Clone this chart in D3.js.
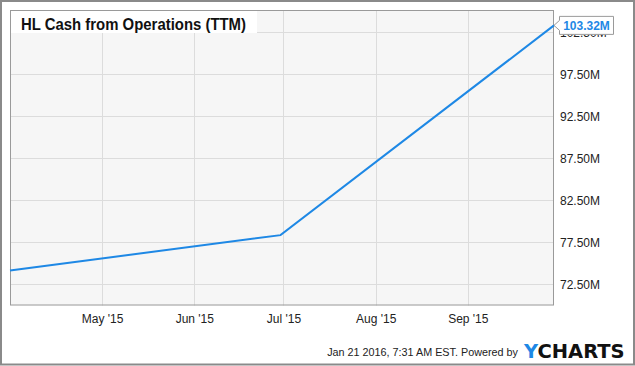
<!DOCTYPE html>
<html>
<head>
<meta charset="utf-8">
<script src="https://cdn.jsdelivr.net/npm/d3@7/dist/d3.min.js"></script>
<style>
  html, body { margin: 0; padding: 0; background: #fff; }
  svg { display: block; font-family: "Liberation Sans", Arial, sans-serif; }
</style>
</head>
<body>
<svg id="chart" width="635" height="366"></svg>
<script>
// ---- data ----
const title = "HL Cash from Operations (TTM)";
const dates = ["2015-03-31", "2015-06-30", "2015-09-30"];
const values = [74.17, 78.37, 103.32]; // millions
const yTicks = [72.5, 77.5, 82.5, 87.5, 92.5, 97.5, 102.5];
const xTickDates = ["2015-05-01", "2015-06-01", "2015-07-01", "2015-08-01", "2015-09-01"];
const xTickLabels = ["May '15", "Jun '15", "Jul '15", "Aug '15", "Sep '15"];
const lastLabel = "103.32M";
const footerText = "Jan 21 2016, 7:31 AM EST.  Powered by";

// ---- layout ----
const svg = d3.select("#chart");
const W = 635, H = 366;
const plot = { left: 10, right: 554, top: 10, bottom: 305.5 };
const lineColor = "#1e88e5";
const parse = d3.utcParse("%Y-%m-%d");

const x = d3.scaleUtc()
  .domain([parse(dates[0]), parse(dates[dates.length - 1])])
  .range([plot.left, plot.right]);
const y = d3.scaleLinear()
  .domain([70, 105.15])
  .range([plot.bottom, plot.top]);

// outer frame
svg.append("rect").attr("x", 1).attr("y", 1).attr("width", W - 2).attr("height", H - 2.5)
  .attr("fill", "#fff").attr("stroke", "#8a8a8a").attr("stroke-width", 2);

// plot background
svg.append("rect").attr("x", plot.left).attr("y", plot.top)
  .attr("width", plot.right - plot.left).attr("height", plot.bottom - plot.top)
  .attr("fill", "#f6f6f6");

// grid lines
svg.append("g").selectAll("line.h").data(yTicks).join("line")
  .attr("x1", plot.left).attr("x2", plot.right)
  .attr("y1", d => Math.round(y(d)) + 0.5).attr("y2", d => Math.round(y(d)) + 0.5)
  .attr("stroke", "#dcdcdc").attr("stroke-width", 1);
svg.append("g").selectAll("line.v").data(xTickDates).join("line")
  .attr("x1", d => Math.round(x(parse(d))) + 0.5).attr("x2", d => Math.round(x(parse(d))) + 0.5)
  .attr("y1", plot.top).attr("y2", plot.bottom)
  .attr("stroke", "#dcdcdc").attr("stroke-width", 1);

// plot border
svg.append("rect").attr("x", plot.left + 0.5).attr("y", plot.top + 0.5)
  .attr("width", plot.right - plot.left - 1).attr("height", plot.bottom - plot.top - 1)
  .attr("fill", "none").attr("stroke", "#9a9a9a").attr("stroke-width", 1);

// x axis labels
const xAxis = d3.axisBottom(x)
  .tickValues(xTickDates.map(parse))
  .tickFormat((d, i) => xTickLabels[i])
  .tickSize(0).tickPadding(0);
const gx = svg.append("g").attr("transform", `translate(0,${plot.bottom})`).call(xAxis);
gx.select(".domain").remove();
gx.selectAll("text").attr("font-size", 12).attr("fill", "#222")
  .attr("font-family", "'Liberation Sans', Arial, sans-serif").attr("dy", "1.45em");

// y axis labels
const yAxis = d3.axisRight(y)
  .tickValues(yTicks)
  .tickFormat(d => d.toFixed(2) + "M")
  .tickSize(0).tickPadding(6);
const gy = svg.append("g").attr("transform", `translate(${plot.right},0)`).call(yAxis);
gy.select(".domain").remove();
gy.selectAll("text").attr("font-size", 12).attr("fill", "#222")
  .attr("font-family", "'Liberation Sans', Arial, sans-serif");

// line
const data = dates.map((d, i) => ({ date: parse(d), value: values[i] }));
svg.append("path").datum(data)
  .attr("fill", "none").attr("stroke", lineColor).attr("stroke-width", 2)
  .attr("d", d3.line().x(d => x(d.date)).y(d => y(d.value)));

// title box
svg.append("rect").attr("x", plot.left + 1).attr("y", plot.top + 1)
  .attr("width", 246).attr("height", 22).attr("fill", "#fff");
svg.append("text").attr("x", 21).attr("y", 29.5)
  .attr("font-size", 16).attr("font-weight", "bold").attr("fill", "#111")
  .attr("textLength", 225).attr("lengthAdjust", "spacingAndGlyphs")
  .text(title);

// last value flag
const last = data[data.length - 1];
const lx = x(last.date), ly = y(last.value);
const bx = lx + 5.5, bw = 54, bh = 18;
const flag = svg.append("g");
flag.append("path")
  .attr("d", `M${lx},${ly} L${bx},${ly - 5} L${bx},${ly - bh / 2} L${bx + bw},${ly - bh / 2} L${bx + bw},${ly + bh / 2} L${bx},${ly + bh / 2} L${bx},${ly + 5} Z`)
  .attr("fill", "#fff").attr("stroke", "#9a9a9a").attr("stroke-width", 1);
flag.append("text").attr("x", bx + bw / 2).attr("y", ly + 4.5)
  .attr("text-anchor", "middle").attr("font-size", 12).attr("font-weight", "bold")
  .attr("fill", lineColor).text(lastLabel);

// footer
svg.append("text").attr("x", 518).attr("y", 356).attr("text-anchor", "end")
  .attr("font-size", 10.8).attr("fill", "#222")
  .text(footerText);
const logo = svg.append("text").attr("x", 524).attr("y", 357.5)
  .attr("font-size", 19.5).attr("font-weight", "bold")
  .attr("font-family", "'DejaVu Sans', sans-serif");
logo.append("tspan").attr("fill", lineColor).text("Y");
logo.append("tspan").attr("fill", "#111").text("CHARTS");
</script>
</body>
</html>
